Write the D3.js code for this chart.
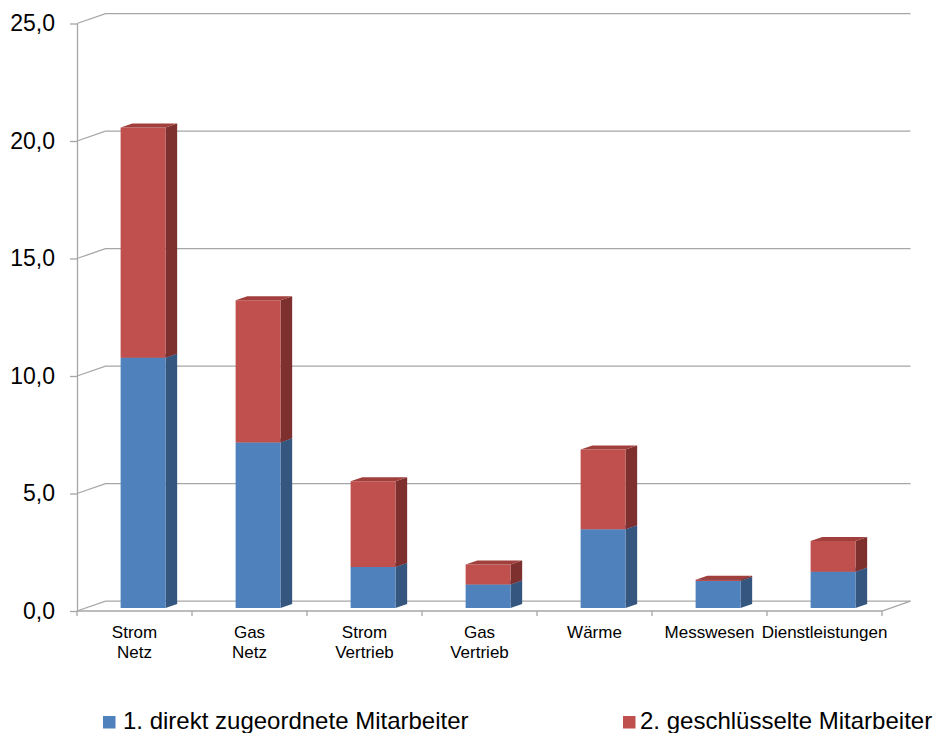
<!DOCTYPE html>
<html>
<head>
<meta charset="utf-8">
<script src="https://cdn.jsdelivr.net/npm/d3@7"></script>
<style>
  html, body { margin: 0; padding: 0; background: #ffffff; }
  svg { display: block; font-family: "Liberation Sans", Arial, sans-serif; }
</style>
</head>
<body>
<svg id="chart" width="938" height="733"></svg>
<script>
// ---- data ----
const categories = [["Strom", "Netz"], ["Gas", "Netz"], ["Strom", "Vertrieb"], ["Gas", "Vertrieb"], ["Wärme"], ["Messwesen"], ["Dienstleistungen"]];
const seriesNames = ["1. direkt zugeordnete Mitarbeiter", "2. geschlüsselte Mitarbeiter"];
const direkt = [10.65, 7.05, 1.75, 1.0, 3.35, 1.15, 1.55];
const geschluesselt = [9.8, 6.05, 3.65, 0.85, 3.4, 0.05, 1.3];
const yTicks = [0, 5, 10, 15, 20, 25];

// ---- layout ----
const svg = d3.select("#chart");
const x0 = 77, x1 = 882;
const depthX = 28.5, depthY = -9.8;
const zFront = 0.3, zBack = 0.71;
const barFrac = 0.39;

const y = d3.scaleLinear().domain([0, 25]).range([611, 23.5]);
const xBand = d3.scaleBand().domain(d3.range(categories.length)).range([x0, x1]).padding(0);
const P = (x, v, z) => [x + depthX * z, y(v) + depthY * z];

const de = d3.formatLocale({ decimal: ",", thousands: ".", grouping: [3], currency: ["", " €"] });
const fmt = de.format(".1f");

const gridColor = "#a6a6a6";
const line = d3.line();

// gridlines (side wall diagonal + back wall)
const grid = svg.append("g");
yTicks.forEach(t => {
  grid.append("path")
    .attr("d", line([P(x0, t, 0), P(x0, t, 1), P(x1, t, 1)]))
    .attr("fill", "none").attr("stroke", gridColor).attr("stroke-width", 1.3);
});
// floor front edge + right diagonal
grid.append("path")
  .attr("d", line([P(x0, 0, 0), P(x1, 0, 0), P(x1, 0, 1)]))
  .attr("fill", "none").attr("stroke", gridColor).attr("stroke-width", 1.3);

// y axis
const yAxis = d3.axisLeft(y).tickValues(yTicks).tickFormat(fmt).tickSize(7).tickSizeOuter(0).tickPadding(15);
const gy = svg.append("g").attr("transform", `translate(${x0},0)`).call(yAxis);
gy.selectAll("line, path").attr("stroke", gridColor).attr("stroke-width", 1.3);
gy.selectAll("text").attr("font-size", 23).attr("fill", "#000").attr("font-family", "Liberation Sans, Arial, sans-serif");
gy.attr("font-family", null);

// x ticks at category boundaries
const boundaries = d3.range(categories.length + 1).map(i => i === categories.length ? x1 : xBand(i));
svg.append("g").selectAll("line").data(boundaries).join("line")
  .attr("x1", d => d).attr("x2", d => d)
  .attr("y1", y(0)).attr("y2", y(0) + 5)
  .attr("stroke", gridColor).attr("stroke-width", 1.3);

// x labels
const xl = svg.append("g");
categories.forEach((lines, i) => {
  const t = xl.append("text")
    .attr("x", xBand(i) + xBand.bandwidth() / 2)
    .attr("y", 638)
    .attr("text-anchor", "middle")
    .attr("font-size", 17).attr("fill", "#000");
  lines.forEach((s, j) => t.append("tspan").attr("x", xBand(i) + xBand.bandwidth() / 2).attr("dy", j === 0 ? 0 : 20).text(s));
});

// bars
const colors = [
  { front: "#4F81BD", side: "#34567F", top: "#4674AA" },
  { front: "#C0504D", side: "#7E302E", top: "#A13F3C" }
];
const stacked = categories.map((c, i) => {
  const a = direkt[i], b = geschluesselt[i];
  return [{ s: 0, lo: 0, hi: a }, { s: 1, lo: a, hi: a + b }];
});
const bars = svg.append("g");
stacked.forEach((segs, i) => {
  const cx = xBand(i) + xBand.bandwidth() / 2;
  const w = xBand.bandwidth() * barFrac;
  const L = cx - w / 2, R = cx + w / 2;
  segs.forEach(sg => {
    const c = colors[sg.s];
    const poly = pts => bars.append("polygon").attr("points", pts.map(p => p.join(",")).join(" "));
    // side face
    poly([P(R, sg.lo, zFront), P(R, sg.lo, zBack), P(R, sg.hi, zBack), P(R, sg.hi, zFront)]).attr("fill", c.side);
    // front face
    poly([P(L, sg.lo, zFront), P(R, sg.lo, zFront), P(R, sg.hi, zFront), P(L, sg.hi, zFront)]).attr("fill", c.front);
    // top face
    poly([P(L, sg.hi, zFront), P(R, sg.hi, zFront), P(R, sg.hi, zBack), P(L, sg.hi, zBack)]).attr("fill", c.top);
  });
});

// legend
const legend = svg.append("g");
const legendItems = [{ x: 103, tx: 123 }, { x: 623, tx: 640 }];
seriesNames.forEach((n, i) => {
  legend.append("rect").attr("x", legendItems[i].x).attr("y", 716).attr("width", 12.5).attr("height", 12.5).attr("fill", colors[i].front);
  legend.append("text").attr("x", legendItems[i].tx).attr("y", 729).attr("font-size", 24).attr("fill", "#000").text(n);
});
</script>
</body>
</html>
